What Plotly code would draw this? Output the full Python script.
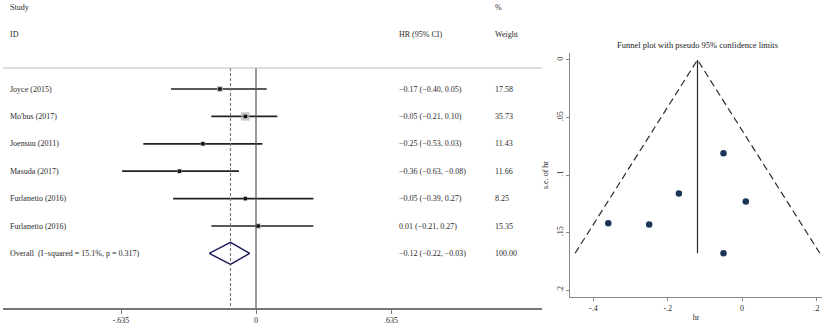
import plotly.graph_objects as go

# ---------------- data ----------------
studies = ["Joyce (2015)", "Mo'bus (2017)", "Joensuu (2011)", "Masuda (2017)",
           "Furlanetto (2016)", "Furlanetto (2016)"]
hr = [-0.17, -0.05, -0.25, -0.36, -0.05, 0.01]
lo = [-0.40, -0.21, -0.53, -0.63, -0.39, -0.21]
hi = [0.05, 0.10, 0.03, -0.08, 0.27, 0.27]
weights = [17.58, 35.73, 11.43, 11.66, 8.25, 15.35]
overall_label = "Overall  (I\u2212squared = 15.1%, p = 0.317)"
overall = [-0.12, -0.22, -0.03]
overall_weight = 100.00
forest_ticks = [-0.635, 0, 0.635]
forest_ticktext = ["-.635", "0", ".635"]

# funnel: (hr, s.e. of hr)
fun_hr = [-0.05, -0.17, 0.01, -0.36, -0.25, -0.05]
fun_se = [0.081, 0.116, 0.123, 0.142, 0.143, 0.168]
fun_xticks = [-0.4, -0.2, 0, 0.2]
fun_xticktext = ["-.4", "-.2", "0", ".2"]
fun_yticks = [0, 0.05, 0.1, 0.15, 0.2]
fun_yticktext = ["0", ".05", ".1", ".15", ".2"]

W, H = 827, 330
FONT = "Liberation Serif"
TXT = "#2a2a2a"

def fmt(v):
    s = f"{v:.2f}"
    return s.replace("-", "\u2212")

rows = list(range(1, len(studies) + 1))
orow = len(studies) + 1

fig = go.Figure()

# CI lines
cx, cy = [], []
for r, a, b in zip(rows, lo, hi):
    cx += [a, b, None]
    cy += [r, r, None]
fig.add_trace(go.Scatter(x=cx, y=cy, mode="lines", line=dict(color="#222222", width=1.7),
                         hoverinfo="skip", xaxis="x", yaxis="y"))
# weight boxes
wmax = max(weights)
sizes = [8.5 * (w / wmax) ** 0.5 for w in weights]
fig.add_trace(go.Scatter(x=hr, y=rows, mode="markers",
                         marker=dict(symbol="square", size=sizes, color="#b4b4b4", line=dict(width=0)),
                         xaxis="x", yaxis="y"))
fig.add_trace(go.Scatter(x=hr, y=rows, mode="markers",
                         marker=dict(symbol="square", size=3.5, color="#111111"),
                         xaxis="x", yaxis="y"))
# diamond
dh = 0.4
fig.add_trace(go.Scatter(x=[overall[1], overall[0], overall[2], overall[0], overall[1]],
                         y=[orow, orow - dh, orow, orow + dh, orow],
                         mode="lines", line=dict(color="#1e1e5a", width=1.5),
                         xaxis="x", yaxis="y"))

# funnel traces
semax = max(fun_se)
fig.add_trace(go.Scatter(x=[overall[0] - 1.96 * semax, overall[0], overall[0] + 1.96 * semax],
                         y=[semax, 0, semax], mode="lines",
                         line=dict(color="#2b2b2b", width=1.2, dash="7px,4px"),
                         xaxis="x2", yaxis="y2"))
fig.add_trace(go.Scatter(x=[overall[0], overall[0]], y=[0, semax], mode="lines",
                         line=dict(color="#2b2b2b", width=1.2), xaxis="x2", yaxis="y2"))
fig.add_trace(go.Scatter(x=fun_hr, y=fun_se, mode="markers",
                         marker=dict(size=6.5, color="#1b3556"), xaxis="x2", yaxis="y2"))

y_bottom = 308
row_px = 27.4
row1_px = 89
def px2row(p):
    return 1 + (p - row1_px) / row_px
header_row = px2row(68)

# forest reference lines
fig.add_shape(type="line", xref="x", yref="y", x0=0, x1=0, y0=header_row, y1=px2row(y_bottom),
              line=dict(color="#555555", width=1.2))
fig.add_shape(type="line", xref="x", yref="y", x0=overall[0], x1=overall[0], y0=header_row,
              y1=px2row(y_bottom), line=dict(color="#7a6a7a", width=1.1, dash="3px,2px"))
fig.add_shape(type="line", xref="paper", yref="y", x0=3 / W, x1=542 / W, y0=header_row, y1=header_row,
              line=dict(color="#bbbbbb", width=1.2))

ann = []
def add_text(xp, row, text, size=8):
    ann.append(dict(x=xp / W, xref="paper", y=row, yref="y", text=text, showarrow=False,
                    xanchor="left", yanchor="middle", font=dict(family=FONT, size=size, color=TXT)))

add_text(8, px2row(7), "Study")
add_text(8, px2row(34), "ID")
add_text(397, px2row(34), "HR (95% CI)")
add_text(493, px2row(7), "%")
add_text(493, px2row(34), "Weight")
for r, s, h, a, b, w in zip(rows, studies, hr, lo, hi, weights):
    add_text(8, r, s)
    add_text(397, r, f"{fmt(h)} ({fmt(a)}, {fmt(b)})")
    add_text(493, r, f"{w:.2f}")
add_text(8, orow, overall_label)
add_text(397, orow, f"{fmt(overall[0])} ({fmt(overall[1])}, {fmt(overall[2])})")
add_text(493, orow, f"{overall_weight:.2f}")

# funnel title
ann.append(dict(x=697 / W, xref="paper", y=1 - 45 / H, yref="paper", text="Funnel plot with pseudo 95% confidence limits",
                showarrow=False, xanchor="center", yanchor="middle",
                font=dict(family=FONT, size=8.5, color="#222222")))

fx0, fx1 = 570, 822
fy0, fy1 = 53, 297
fxr = [-0.463, 0.215]
fyr = [0.206, -0.006]

fig.update_layout(
    width=W, height=H, margin=dict(l=0, r=0, t=0, b=0),
    paper_bgcolor="white", plot_bgcolor="white", showlegend=False,
    annotations=ann,
    xaxis=dict(domain=[3 / W, 542 / W], range=[(3 - 256) / 212.6, (542 - 256) / 212.6],
               showline=True, linecolor="#777777", linewidth=1.5, showgrid=False, zeroline=False,
               tickvals=forest_ticks, ticktext=forest_ticktext, ticks="outside", ticklen=4,
               tickcolor="#777777", tickfont=dict(family=FONT, size=8, color=TXT)),
    yaxis=dict(domain=[(H - y_bottom) / H, 1], range=[px2row(y_bottom), px2row(0)],
               showline=False, showgrid=False, zeroline=False, showticklabels=False),
    xaxis2=dict(domain=[fx0 / W, fx1 / W], range=fxr, anchor="y2",
                showline=True, linecolor="#888888", linewidth=1.2, showgrid=False, zeroline=False,
                tickvals=fun_xticks, ticktext=fun_xticktext, ticks="outside", ticklen=3,
                tickcolor="#888888", tickfont=dict(family=FONT, size=8, color=TXT),
                title=dict(text="hr", font=dict(family=FONT, size=8, color=TXT), standoff=2)),
    yaxis2=dict(domain=[(H - fy1) / H, (H - fy0) / H], range=fyr, anchor="x2",
                showline=True, linecolor="#888888", linewidth=1.2, showgrid=False, zeroline=False,
                tickvals=fun_yticks, ticktext=fun_yticktext, ticks="outside", ticklen=3,
                tickcolor="#888888", tickangle=-90, tickfont=dict(family=FONT, size=8, color=TXT),
                title=dict(text="s.e. of hr", font=dict(family=FONT, size=8, color=TXT), standoff=5)),
)

fig.write_html("out.html", config={"displayModeBar": False},
               post_script="document.body.style.margin='0';document.body.style.padding='0';")
